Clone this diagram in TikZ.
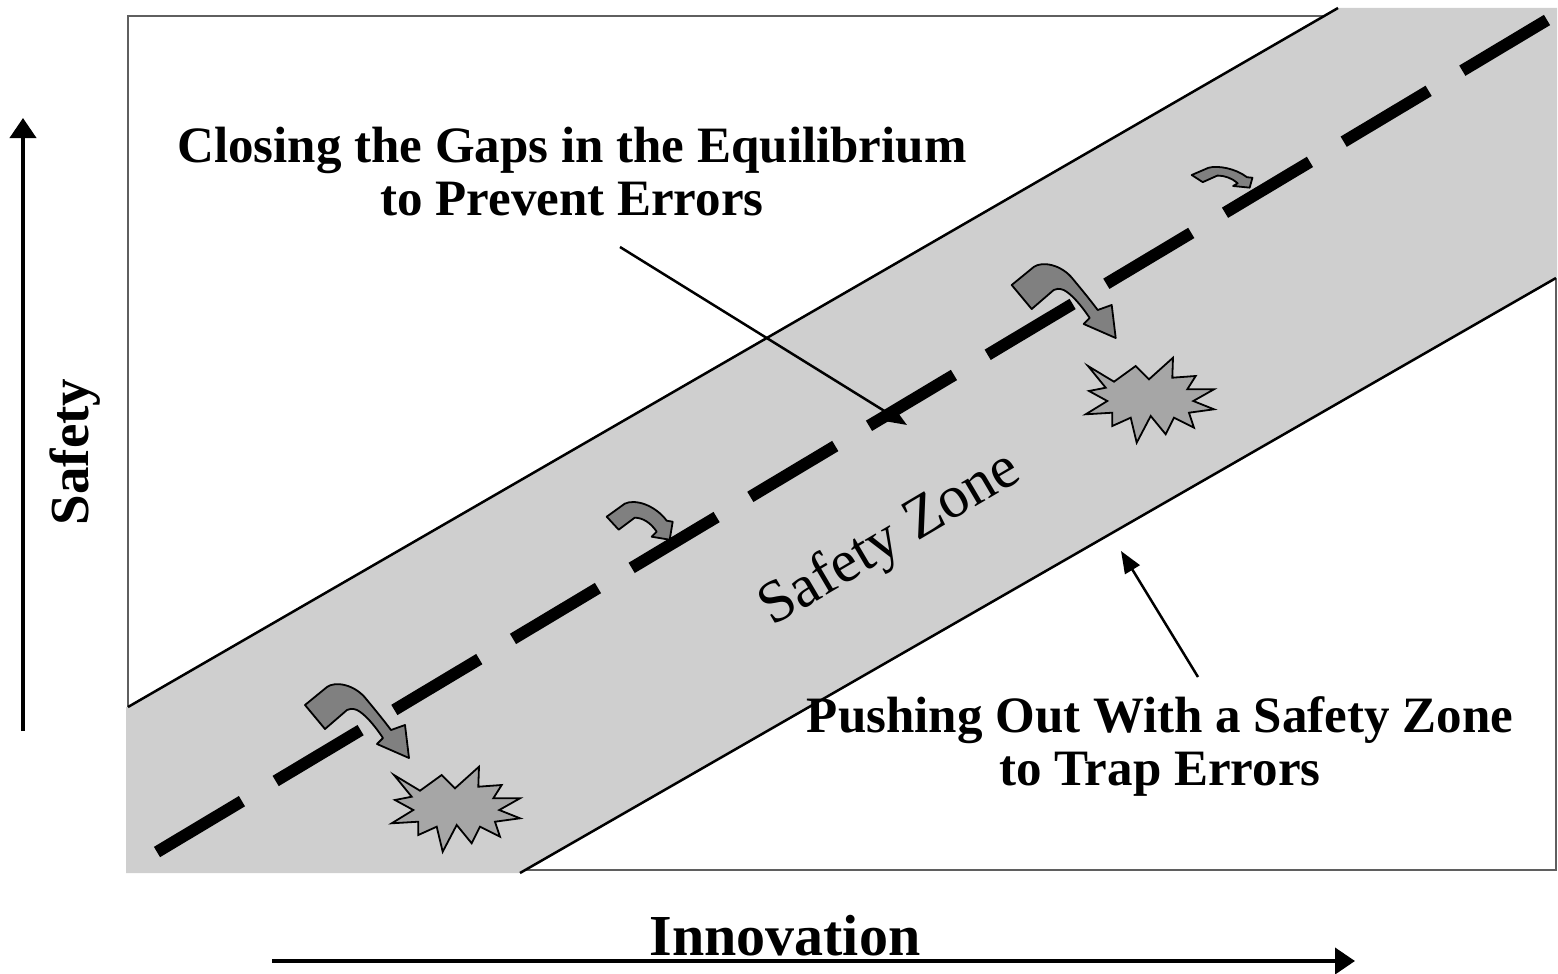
\documentclass[tikz,border=0pt]{standalone}
\usepackage{fontspec}
\setmainfont{Liberation Serif}
\usetikzlibrary{arrows.meta}
\definecolor{bandgray}{RGB}{207,207,207}
\definecolor{arrowgray}{RGB}{128,128,128}
\definecolor{stargray}{RGB}{166,166,166}
\definecolor{framegray}{RGB}{95,95,95}
\tikzset{
  framebox/.style={fill=white, draw=framegray, line width=1.8pt},
  bandedge/.style={draw=black, line width=2.5pt},
  centerdash/.style={draw=black, line width=12pt, dash pattern=on 99pt off 39.3pt},
  blockarrow/.style={fill=arrowgray, draw=black, line width=1.8pt, line join=round},
  burst/.style={fill=stargray, draw=black, line width=1.8pt, line join=miter, miter limit=20},
  axisarrow/.style={draw=black, line width=4pt, -{Triangle[length=20pt,width=26pt]}},
  notearrow/.style={draw=black, line width=2.5pt, -{Triangle[length=22pt,width=17pt]}},
  labeltext/.style={font=\fontsize{51}{53}\selectfont\bfseries, inner sep=0pt, anchor=base},
  bigarrow/.pic={\path[blockarrow] (0,0) -- (22,-18) .. controls (30,-24) and (50,-21) .. (62,-5)
      .. controls (72,7) and (80,17) .. (86,25) -- (100,20) -- (104,53) -- (72,39) -- (78,33)
      .. controls (70,21) and (60,9) .. (52,5) .. controls (47,3) and (44,4) .. (42,5) -- (20,24) -- cycle;},
  smallarrow/.pic={\path[blockarrow] (0,0) -- (18,-13) .. controls (28,-18) and (48,-12) .. (60,4)
      -- (66,5) -- (63,23) -- (45,20) -- (50,15) .. controls (44,6) and (36,1) .. (28,1) -- (12,13) -- cycle;},
  starburst/.pic={\path[burst] (-61,-33) -- (-35,-17.3) -- (-13.3,-33) -- (0,-19.7) -- (24,-41.3)
      -- (23.3,-21.3) -- (46.7,-23) -- (38.3,-9.7) -- (65,-9.7) -- (44.3,2) -- (65,10.3)
      -- (40,13.7) -- (45,28.7) -- (25,18.7) -- (16.7,35.3) -- (1.7,17) -- (-12.3,43.7)
      -- (-18.3,18.7) -- (-36.7,27) -- (-36.7,13.7) -- (-63.3,15.3) -- (-41.7,2) -- (-60,-8)
      -- (-43.3,-11.3) -- cycle;}
}
\begin{document}
\begin{tikzpicture}[x=1pt,y=-1pt]
\useasboundingbox (0,0) rectangle (1558,974);
% frame
\path[framebox] (128,16) rectangle (1556,870);
% band
\fill[bandgray] (128,707) -- (1338,8) -- (1557,8) -- (1557,278) -- (520,873) -- (126,873) -- (126,707) -- cycle;
\draw[bandedge] (128,707) -- (1338,8);
\draw[bandedge] (520,873) -- (1556,278);
% dashed centre line
\coordinate (d0) at (157,852);
\coordinate (d1) at (1547,20);
\draw[centerdash] (d0) -- (d1);
% block arrows
\pic at (305,705) {bigarrow};
\pic at (1011.7,285) {bigarrow};
\pic at (606.7,516.7) {smallarrow};
\pic[xscale=0.92,yscale=0.55] at (1191.7,175) {smallarrow};
% bursts
\pic at (455,808) {starburst};
\pic at (1149,399) {starburst};
% labels
\node[labeltext] (c1) at (572,162) {Closing the Gaps in the Equilibrium};
\node[labeltext] (c2) at (572,215) {to Prevent Errors};
\node[labeltext] (p1) at (1160,732) {Pushing Out With a Safety Zone};
\node[labeltext] (p2) at (1160,785) {to Trap Errors};
\node[font=\fontsize{58}{60}\selectfont\bfseries, inner sep=0pt, anchor=base] (inn) at (785,955) {Innovation};
\node[font=\fontsize{55}{57}\selectfont\bfseries, inner sep=0pt, rotate=90] (saf) at (75,452) {Safety};
\node[font=\fontsize{60}{62}\selectfont, inner sep=0pt, anchor=base, rotate=30.5] (sz) at (898,553) {Safety Zone};
% annotation arrows
\coordinate (cstart) at (620,247);
\coordinate (ctip) at (907,425);
\draw[notearrow] (cstart) -- (ctip);
\coordinate (pstart) at (1198,677);
\coordinate (ptip) at (1121,551);
\draw[notearrow] (pstart) -- (ptip);
% axes
\coordinate (sbot) at (23,731);
\coordinate (stop) at (23,118);
\draw[axisarrow] (sbot) -- (stop);
\coordinate (ileft) at (272,961);
\coordinate (iright) at (1355,961);
\draw[axisarrow] (ileft) -- (iright);
\end{tikzpicture}
\end{document}
